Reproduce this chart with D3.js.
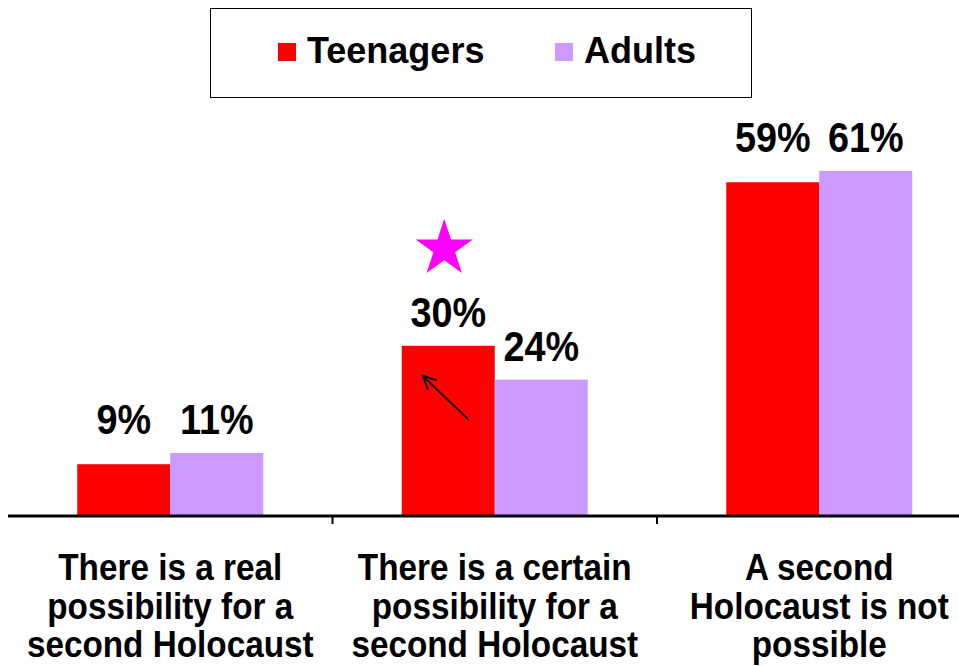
<!DOCTYPE html>
<html><head><meta charset="utf-8">
<script src="https://cdn.jsdelivr.net/npm/d3@7"></script>
<style>html,body{margin:0;padding:0;background:#fff;}svg{display:block;}</style>
</head><body>
<svg id="c" width="959" height="666"></svg>
<script>
const categories = [
  ["There is a real", "possibility for a", "second Holocaust"],
  ["There is a certain", "possibility for a", "second Holocaust"],
  ["A second", "Holocaust is not", "possible"]
];
const seriesNames = ["Teenagers", "Adults"];
const teenagers = [9, 30, 59];
const adults = [11, 24, 61];
const colors = ["#FF0000", "#CC99FF"];
const valueSuffix = "%";

const svg = d3.select("#c");
const font = "'Liberation Sans', Arial, sans-serif";
const catIdx = categories.map((d, i) => i);
const x0 = d3.scaleBand().domain(catIdx).range([8, 981.5]).paddingInner(0).paddingOuter(0);
const x1 = d3.scaleBand().domain(seriesNames).range([0, x0.bandwidth()]).paddingInner(0).paddingOuter(0.745);
const y = d3.scaleLinear().domain([0, 70]).range([515, 120.2]);
const values = [teenagers, adults];

// bars
const g = svg.append("g");
catIdx.forEach(ci => {
  seriesNames.forEach((s, si) => {
    const v = values[si][ci];
    g.append("rect")
      .attr("x", x0(ci) + x1(s))
      .attr("y", y(v))
      .attr("width", x1.bandwidth())
      .attr("height", y(0) - y(v))
      .attr("fill", colors[si]);
  });
});

// value labels
catIdx.forEach(ci => {
  const vs = values.map(a => a[ci]);
  const close = Math.abs(vs[0] - vs[1]) <= 3;
  seriesNames.forEach((s, si) => {
    const v = vs[si];
    const ref = close ? Math.max(...vs) : v;
    const cx = x0(ci) + x1(s) + x1.bandwidth() / 2;
    const by = y(ref) - 19;
    svg.append("text")
      .attr("transform", `translate(${cx},${by}) scale(0.9,1)`)
      .attr("text-anchor", "middle")
      .attr("font-family", font).attr("font-weight", "bold").attr("font-size", 42)
      .attr("fill", "#000")
      .text(v + valueSuffix);
  });
});

// axis line and ticks
svg.append("line").attr("x1", x0.range()[0]).attr("x2", x0.range()[1])
  .attr("y1", y(0) + 1).attr("y2", y(0) + 1).attr("stroke", "#000").attr("stroke-width", 3);
catIdx.slice(1).forEach(ci => {
  svg.append("line").attr("x1", x0(ci)).attr("x2", x0(ci))
    .attr("y1", y(0)).attr("y2", y(0) + 9).attr("stroke", "#000").attr("stroke-width", 2);
});

// category labels
catIdx.forEach(ci => {
  const cx = x0(ci) + x0.bandwidth() / 2;
  categories[ci].forEach((line, li) => {
    svg.append("text")
      .attr("transform", `translate(${cx},${580 + li * 38.5}) scale(0.9,1)`)
      .attr("text-anchor", "middle")
      .attr("font-family", font).attr("font-weight", "bold").attr("font-size", 37)
      .attr("fill", "#000")
      .text(line);
  });
});

// legend
svg.append("rect").attr("x", 210.5).attr("y", 8.5).attr("width", 541).attr("height", 89)
  .attr("fill", "#fff").attr("stroke", "#000").attr("stroke-width", 1);
const legX = [278, 555];
seriesNames.forEach((s, si) => {
  svg.append("rect").attr("x", legX[si]).attr("y", 43).attr("width", 18).attr("height", 18).attr("fill", colors[si]);
  svg.append("text").attr("x", legX[si] + 29).attr("y", 63)
    .attr("font-family", font).attr("font-weight", "bold").attr("font-size", 36)
    .attr("fill", "#000").text(s);
});

// annotations: star and arrow on the teenagers' "certain possibility" bar
const bx = x0(1) + x1("Teenagers");
const by = y(teenagers[1]);
svg.append("path")
  .attr("d", d3.symbol().type(d3.symbolStar).size(1010)())
  .attr("transform", `translate(${bx + x1.bandwidth() / 2 - 4},${by - 97})`)
  .attr("fill", "#FF00FF");
const tip = [bx + 21, by + 30], tail = [bx + 67, by + 74];
svg.append("line").attr("x1", tail[0]).attr("y1", tail[1]).attr("x2", tip[0]).attr("y2", tip[1])
  .attr("stroke", "#000").attr("stroke-width", 1.8);
const ang = Math.atan2(tail[1] - tip[1], tail[0] - tip[0]);
const L = 15, spread = 0.45;
const p1 = [tip[0] + L * Math.cos(ang + spread), tip[1] + L * Math.sin(ang + spread)];
const p2 = [tip[0] + L * Math.cos(ang - spread), tip[1] + L * Math.sin(ang - spread)];
svg.append("path").attr("d", `M${p1[0]},${p1[1]}L${tip[0]},${tip[1]}L${p2[0]},${p2[1]}`)
  .attr("fill", "none").attr("stroke", "#000").attr("stroke-width", 1.8);
</script>
</body></html>
